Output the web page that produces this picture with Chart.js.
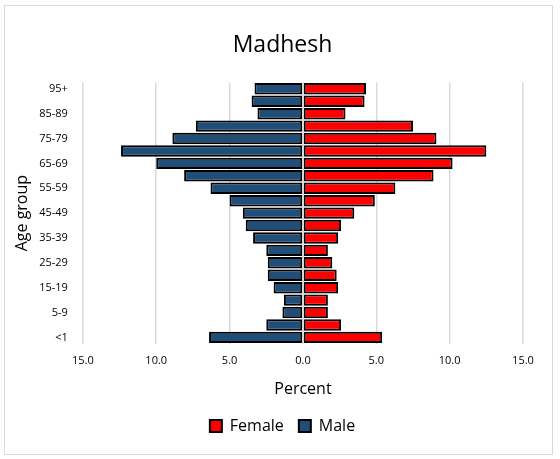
<!DOCTYPE html>
<html>
<head>
<meta charset="utf-8">
<script src="https://cdn.jsdelivr.net/npm/chart.js@4"></script>
<style>
  body { margin: 0; background: #fff; }
  #wrap { position: absolute; left: 4px; top: 5px; width: 549px; height: 450px; border: 1px solid #d9d9d9; box-sizing: border-box; }
</style>
</head>
<body>
<div id="wrap"><canvas id="pyramid"></canvas></div>
<script>
// age groups, top to bottom
const ageGroups = ['95+', '90-94', '85-89', '80-84', '75-79', '70-74', '65-69', '60-64', '55-59', '50-54',
  '45-49', '40-44', '35-39', '30-34', '25-29', '20-24', '15-19', '10-14', '5-9', '1-4', '<1'];
const femalePct = [4.3, 4.2, 2.9, 7.5, 9.1, 12.5, 10.2, 8.9, 6.3, 4.9,
  3.5, 2.6, 2.4, 1.7, 2.0, 2.3, 2.4, 1.7, 1.7, 2.6, 5.4];
const malePct = [3.3, 3.5, 3.1, 7.3, 8.9, 12.4, 10.0, 8.1, 6.3, 5.0,
  4.1, 3.9, 3.4, 2.5, 2.4, 2.4, 2.0, 1.3, 1.4, 2.5, 6.4];

const font = "'Open Sans', 'Liberation Sans', sans-serif";

// light line at zero, drawn over the bars
const zeroLine = {
  id: 'zeroLine',
  afterDatasetsDraw(chart) {
    const x = chart.scales.x.getPixelForValue(0);
    const ctx = chart.ctx;
    ctx.save();
    ctx.strokeStyle = '#d9d9d9';
    ctx.lineWidth = 1.5;
    ctx.beginPath();
    ctx.moveTo(x, chart.chartArea.top);
    ctx.lineTo(x, chart.chartArea.bottom);
    ctx.stroke();
    ctx.restore();
  }
};

new Chart(document.getElementById('pyramid'), {
  type: 'bar',
  data: {
    labels: ageGroups,
    datasets: [
      {
        label: 'Female',
        data: femalePct,
        backgroundColor: '#ff0000',
        borderColor: '#000000',
        borderWidth: 2,
        borderSkipped: false,
        barPercentage: 1,
        categoryPercentage: 0.92
      },
      {
        label: 'Male',
        data: malePct.map(v => -v),
        backgroundColor: '#1f4e79',
        borderColor: '#000000',
        borderWidth: 2,
        borderSkipped: false,
        barPercentage: 1,
        categoryPercentage: 0.92
      }
    ]
  },
  options: {
    indexAxis: 'y',
    responsive: true,
    maintainAspectRatio: false,
    animation: false,
    layout: { padding: { left: 8, right: 0, top: 4, bottom: 10 } },
    plugins: {
      title: {
        display: true,
        text: 'Madhesh',
        color: '#000',
        font: { family: font, size: 23, weight: 'normal' },
        padding: { top: 22, bottom: 23 }
      },
      legend: {
        position: 'bottom',
        labels: {
          color: '#000',
          font: { family: font, size: 16 },
          boxWidth: 12,
          boxHeight: 12,
          padding: 15
        }
      },
      tooltip: { enabled: false }
    },
    scales: {
      x: {
        min: -15,
        max: 15,
        afterFit: s => { s.paddingRight = 29; },
        ticks: {
          stepSize: 5,
          padding: 11,
          color: '#000',
          font: { family: font, size: 11 },
          callback: v => Math.abs(v).toFixed(1)
        },
        grid: { color: '#d9d9d9', lineWidth: 1.5, drawTicks: false },
        border: { display: false },
        title: {
          display: true,
          text: 'Percent',
          color: '#000',
          font: { family: font, size: 16 },
          padding: { top: 1 }
        }
      },
      y: {
        stacked: true,
        ticks: {
          autoSkip: false,
          padding: 7,
          color: '#000',
          font: { family: font, size: 11 },
          callback: function(v, i) { return i % 2 === 0 ? this.getLabelForValue(v) : ''; }
        },
        grid: { display: false },
        border: { display: false },
        title: {
          display: true,
          text: 'Age group',
          color: '#000',
          font: { family: font, size: 16 },
          padding: 0
        }
      }
    }
  },
  plugins: [zeroLine]
});
</script>
</body>
</html>
